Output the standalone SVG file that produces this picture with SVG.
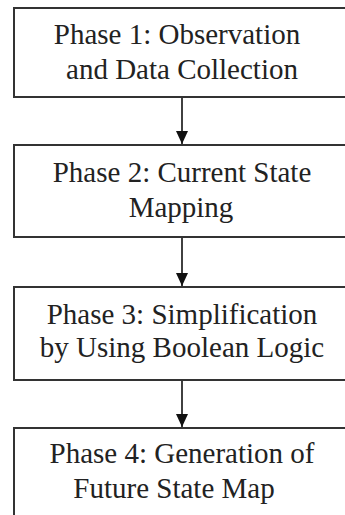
<svg xmlns="http://www.w3.org/2000/svg" width="345" height="515" viewBox="0 0 345 515">
  <defs>
    <marker id="arrow" markerWidth="13" markerHeight="12" refX="13" refY="6" orient="auto" markerUnits="userSpaceOnUse" viewBox="0 0 13 12">
      <path d="M0,0 L13,6 L0,12 Z" fill="#111"/>
    </marker>
  </defs>
  <rect x="0" y="0" width="345" height="515" fill="#ffffff"/>
  <g id="nodes" fill="#ffffff" stroke="#333333" stroke-width="2">
    <g id="phase1">
      <rect x="14" y="8" width="340" height="89"/>
      <text x="177" y="44" text-anchor="middle" font-family="Liberation Serif" font-size="29" fill="#222222" stroke="none">Phase 1: Observation</text>
      <text x="182" y="79" text-anchor="middle" font-family="Liberation Serif" font-size="29" fill="#222222" stroke="none">and Data Collection</text>
    </g>
    <g id="phase2">
      <rect x="14" y="145" width="340" height="92"/>
      <text x="182" y="182" text-anchor="middle" font-family="Liberation Serif" font-size="29" fill="#222222" stroke="none">Phase 2: Current State</text>
      <text x="181" y="217" text-anchor="middle" font-family="Liberation Serif" font-size="29" fill="#222222" stroke="none">Mapping</text>
    </g>
    <g id="phase3">
      <rect x="14" y="287" width="340" height="93"/>
      <text x="182" y="324" text-anchor="middle" font-family="Liberation Serif" font-size="29" fill="#222222" stroke="none">Phase 3: Simplification</text>
      <text x="182" y="357" text-anchor="middle" font-family="Liberation Serif" font-size="29" fill="#222222" stroke="none">by Using Boolean Logic</text>
    </g>
    <g id="phase4">
      <rect x="14" y="428" width="340" height="100"/>
      <text x="182" y="463" text-anchor="middle" font-family="Liberation Serif" font-size="29" fill="#222222" stroke="none">Phase 4: Generation of</text>
      <text x="174" y="498" text-anchor="middle" font-family="Liberation Serif" font-size="29" fill="#222222" stroke="none">Future State Map</text>
    </g>
  </g>
  <g id="connectors" stroke="#111111" stroke-width="1.6" fill="none">
    <line x1="182" y1="98" x2="182" y2="144" marker-end="url(#arrow)"/>
    <line x1="182" y1="238" x2="182" y2="286" marker-end="url(#arrow)"/>
    <line x1="182" y1="381" x2="182" y2="427" marker-end="url(#arrow)"/>
  </g>
</svg>
